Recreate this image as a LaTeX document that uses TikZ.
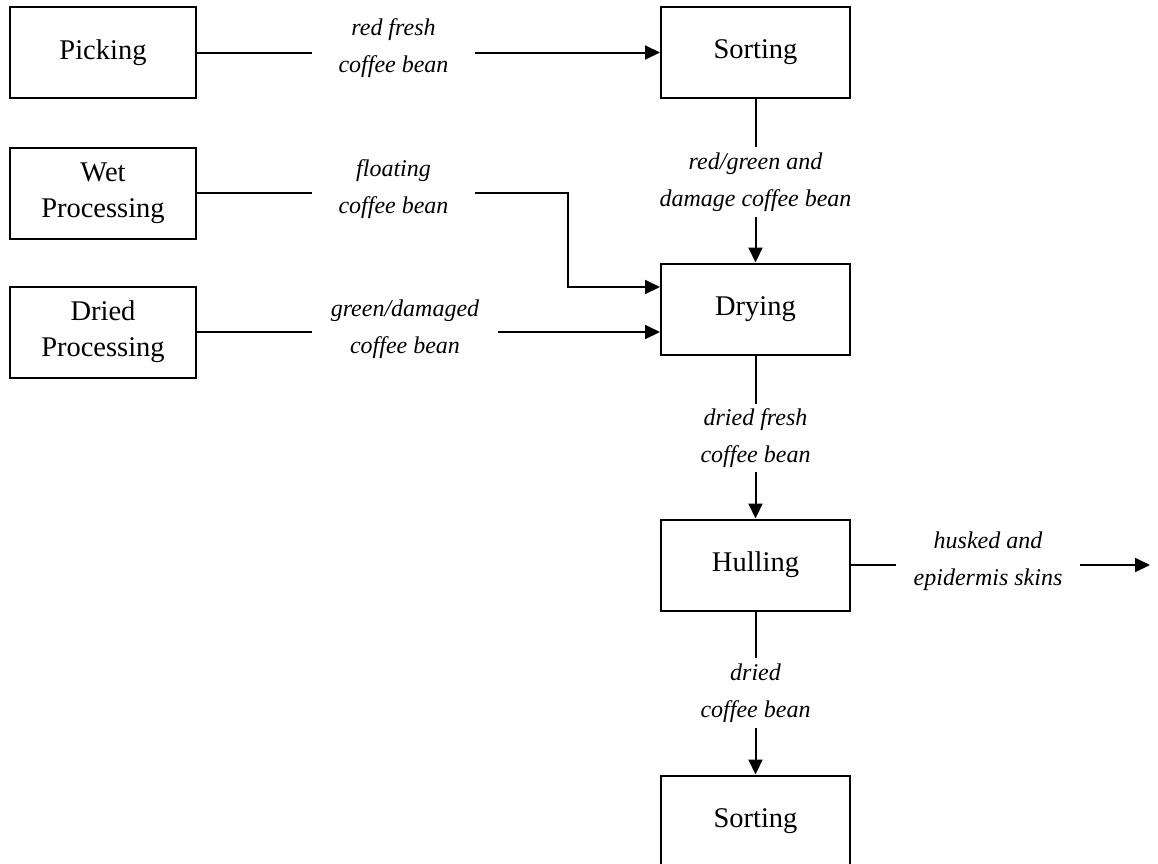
\documentclass[tikz,border=0pt]{standalone}
\usepackage{fontspec}
\setmainfont{Liberation Serif}
\usetikzlibrary{arrows.meta}
\begin{document}
\begin{tikzpicture}[x=1pt,y=-1pt,
  box/.style={draw,line width=2pt,minimum width=186pt,minimum height=91pt,inner sep=0pt,align=center,font=\fontsize{28.5}{36}\selectfont},
  rbox/.style={box,minimum width=189pt},
  lbl/.style={inner sep=0pt,align=center,font=\fontsize{24}{37}\selectfont\itshape},
  conn/.style={line width=2pt},
  arr/.style={conn,-{Triangle[length=15pt,width=14pt]}}]
\useasboundingbox (0,0) rectangle (1158,863);
\clip (0,0) rectangle (1158,863);
% boxes
\node[box] (picking) at (103,52.5) {Picking};
\node[box] (wet) at (103,193) {Wet\\Processing};
\node[box] (dried) at (103,332) {Dried\\Processing};
\node[rbox] (sort1) at (755.5,52.5) {Sorting};
\node[rbox] (drying) at (755.5,309) {Drying};
\node[rbox] (hulling) at (755.5,565) {Hulling};
\node[rbox] (sort2) at (755.5,821) {Sorting};
% labels
\node[lbl,minimum width=163pt] (l1) at (393.5,48) {red fresh\\coffee bean};
\node[lbl,minimum width=163pt] (l2) at (393.5,189) {floating\\coffee bean};
\node[lbl,minimum width=186pt] (l3) at (405,329) {green/damaged\\coffee bean};
\node[lbl,minimum height=70pt] (l4) at (755.5,182) {red/green and\\damage coffee bean};
\node[lbl,minimum height=68pt] (l5) at (755.5,438) {dried fresh\\coffee bean};
\node[lbl,minimum height=70pt] (l6) at (755.5,693) {dried\\coffee bean};
\node[lbl,minimum width=184pt] (l7) at (988,561) {husked and\\epidermis skins};
\coordinate (out) at (1150,565);
\coordinate (bend) at (568,193);
% connectors
\draw[conn] (picking.east) -- (picking.east -| l1.west);
\draw[arr] (picking.east -| l1.east) -- (sort1.west);
\draw[conn] (wet.east) -- (wet.east -| l2.west);
\draw[arr] (wet.east -| l2.east) -- (bend) |- ([yshift=22pt]drying.west);
\draw[conn] (dried.east) -- (dried.east -| l3.west);
\draw[arr] (dried.east -| l3.east) -- ([yshift=-23pt]drying.west);
\draw[conn] (sort1.south) -- (sort1.south |- l4.north);
\draw[arr] (sort1.south |- l4.south) -- (drying.north);
\draw[conn] (drying.south) -- (drying.south |- l5.north);
\draw[arr] (drying.south |- l5.south) -- (hulling.north);
\draw[conn] (hulling.south) -- (hulling.south |- l6.north);
\draw[arr] (hulling.south |- l6.south) -- (sort2.north);
\draw[conn] (hulling.east) -- (hulling.east -| l7.west);
\draw[arr] (hulling.east -| l7.east) -- (out);
\end{tikzpicture}
\end{document}
